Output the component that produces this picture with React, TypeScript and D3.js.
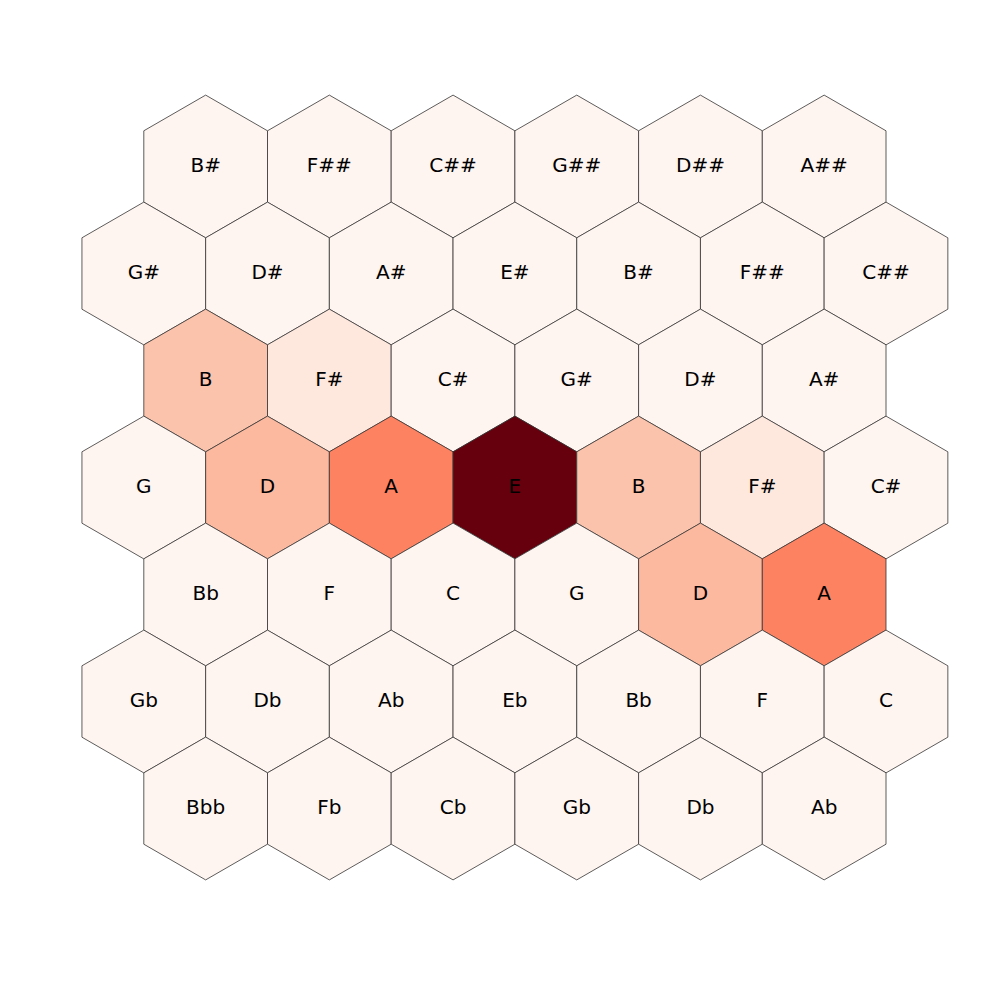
import React from "react";
import * as d3 from "d3";

// Note labels per row (top to bottom). Even rows have 6 cells offset by half a cell.
const row0 = ["B#", "F##", "C##", "G##", "D##", "A##"];
const row1 = ["G#", "D#", "A#", "E#", "B#", "F##", "C##"];
const row2 = ["B", "F#", "C#", "G#", "D#", "A#"];
const row3 = ["G", "D", "A", "E", "B", "F#", "C#"];
const row4 = ["Bb", "F", "C", "G", "D", "A"];
const row5 = ["Gb", "Db", "Ab", "Eb", "Bb", "F", "C"];
const row6 = ["Bbb", "Fb", "Cb", "Gb", "Db", "Ab"];
const rows = [row0, row1, row2, row3, row4, row5, row6];

// Intensity per pitch name (others are 0)
const noteNames = ["E", "A", "D", "B", "F#"];
const noteValues = [1.0, 0.425, 0.256, 0.223, 0.077];

// Matplotlib "Reds" colour stops
const redsStops = ["#fff5f0", "#fee0d2", "#fcbba1", "#fc9272", "#fb6a4a", "#ef3b2c", "#cb181d", "#a50f15", "#67000d"];

const W = 1000;
const H = 1000;
const R = 71.4;
const DX = 123.7;

export default function App() {
  const x = d3.scaleLinear().domain([0, 6]).range([143.8, 143.8 + 6 * DX]);
  const y = d3.scaleLinear().domain([0, 6]).range([166.5, 166.5 + 6 * 107]);
  const color = d3
    .scaleLinear<string>()
    .domain(redsStops.map((_, i) => i / (redsStops.length - 1)))
    .range(redsStops)
    .interpolate(d3.interpolateRgb);
  const valueOf = (n: string) => {
    const i = noteNames.indexOf(n);
    return i >= 0 ? noteValues[i] : 0;
  };
  const hexPath = (cx: number, cy: number) => {
    const pts: [number, number][] = d3.range(6).map((k) => {
      const a = (Math.PI / 3) * k - Math.PI / 2;
      return [cx + (DX / 2) * (Math.cos(a) / (Math.sqrt(3) / 2)) * (Math.abs(Math.cos(a)) > 0.1 ? 1 : 0), cy + R * Math.sin(a)];
    });
    return d3.line()(pts) + "Z";
  };
  const cells: { label: string; cx: number; cy: number; v: number }[] = [];
  rows.forEach((row, r) => {
    const off = row.length === 6 ? 0.5 : 0;
    row.forEach((label, c) => {
      cells.push({ label, cx: x(c + off), cy: y(r), v: valueOf(label) });
    });
  });
  return (
    <svg width={W} height={H} style={{ display: "block", position: "absolute", left: 0, top: 0 }}>
      <rect width={W} height={H} fill="#ffffff" />
      {cells.map((d, i) => (
        <path key={"h" + i} d={hexPath(d.cx, d.cy)} fill={color(d.v)} stroke="#333333" strokeWidth={0.8} />
      ))}
      {cells.map((d, i) => (
        <text
          key={"t" + i}
          x={d.cx}
          y={d.cy - 1.5}
          textAnchor="middle"
          dominantBaseline="central"
          fontFamily="DejaVu Sans"
          fontSize={20}
          fill="#000000"
        >
          {d.label}
        </text>
      ))}
    </svg>
  );
}
